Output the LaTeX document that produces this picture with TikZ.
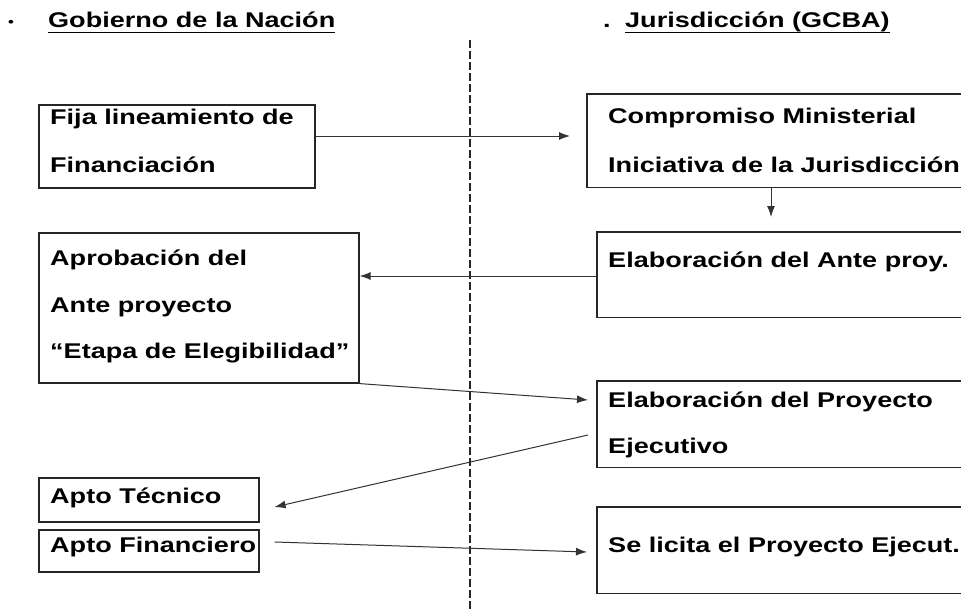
\documentclass[tikz,border=0pt]{standalone}
\usepackage{fontspec}
\setmainfont{Liberation Sans}[FakeStretch=1.27]
\usetikzlibrary{arrows.meta}
\begin{document}
\begin{tikzpicture}[x=1pt,y=-1pt,
  box/.style={draw=black!85,line width=1.6pt,inner sep=0pt,anchor=north west},
  openbox/.style={inner sep=0pt,anchor=north west},
  boxline/.style={draw=black!85,line width=1.6pt},
  txt/.style={inner sep=0pt,anchor=base west,font=\fontsize{21.3}{24}\selectfont\bfseries,text=black},
  arr/.style={draw=black!80,line width=1pt,-{Latex[length=11pt,width=8pt]}},
  divider/.style={draw=black!85,line width=1.4pt,dash pattern=on 8pt off 3pt}]
\fill[white] (0,0) rectangle (961,610);
\useasboundingbox (0,0) rectangle (961,610);
% headers
\node[inner sep=0pt,anchor=base west,font=\fontsize{13}{14}\selectfont\bfseries] (bul) at (8,27) {•};
\node[txt] (h1) at (48,28) {Gobierno de la Nación};
\draw[line width=1.3pt] ([yshift=-4.5pt]h1.base west) -- ([yshift=-4.5pt]h1.base east);
\node[txt] (dot) at (603,28) {.};
\node[txt] (h2) at (625,28) {Jurisdicción (GCBA)};
\draw[line width=1.3pt] ([yshift=-4.5pt]h2.base west) -- ([yshift=-4.5pt]h2.base east);
% divider
\coordinate (dtop) at (470,40);
\coordinate (dbot) at (470,612);
\draw[divider] (dtop) -- (dbot);
% left boxes
\node[box,minimum width=276pt,minimum height=83pt] (b1) at (38,104) {};
\node[box,minimum width=320pt,minimum height=150pt] (b4) at (38,232) {};
\node[box,minimum width=220pt,minimum height=44pt] (b6) at (38,477) {};
\node[box,minimum width=220pt,minimum height=42pt] (b7) at (38,529) {};
% right boxes (cut by the right edge of the picture)
\node[openbox,minimum width=374pt,minimum height=93pt] (b2) at (587,94) {};
\node[openbox,minimum width=364pt,minimum height=85pt] (b3) at (597,232) {};
\node[openbox,minimum width=364pt,minimum height=86pt] (b5) at (597,381) {};
\node[openbox,minimum width=364pt,minimum height=86pt] (b8) at (597,507) {};
\foreach \b in {b2,b3,b5,b8}
  \draw[boxline] (\b.north east) -- (\b.north west) -- (\b.south west) -- (\b.south east);
% texts
\node[txt] (t1a) at (50,124) {Fija lineamiento de};
\node[txt] (t1b) at (50,172) {Financiación};
\node[txt] (t2a) at (608,123) {Compromiso Ministerial};
\node[txt] (t2b) at (608,172) {Iniciativa de la Jurisdicción};
\node[txt] (t3) at (608,267) {Elaboración del Ante proy.};
\node[txt] (t4a) at (50,265) {Aprobación del};
\node[txt] (t4b) at (50,312) {Ante proyecto};
\node[txt] (t4c) at (50,358) {“Etapa de Elegibilidad”};
\node[txt] (t5a) at (608,407) {Elaboración del Proyecto};
\node[txt] (t5b) at (608,453) {Ejecutivo};
\node[txt] (t6) at (50,503) {Apto Técnico};
\node[txt] (t7) at (50,552) {Apto Financiero};
\node[txt] (t8) at (608,552) {Se licita el Proyecto Ejecut.};
% connectors
\draw[arr] ([yshift=-32pt]b1.north east) -- ([xshift=-17pt,yshift=-42pt]b2.north west);
\draw[arr] ([xshift=184pt]b2.south west) -- ([xshift=174pt,yshift=15pt]b3.north west);
\draw[arr] ([yshift=-44pt]b3.north west) -- ([yshift=-44pt]b4.north east);
\draw[arr] (b4.south east) -- ([xshift=-9pt,yshift=-19pt]b5.north west);
\draw[arr] ([xshift=-9pt,yshift=-54pt]b5.north west) -- ([xshift=15pt,yshift=-30pt]b6.north east);
\draw[arr] ([xshift=15pt,yshift=-13pt]b7.north east) -- ([xshift=-10pt,yshift=-45pt]b8.north west);
\end{tikzpicture}
\end{document}
